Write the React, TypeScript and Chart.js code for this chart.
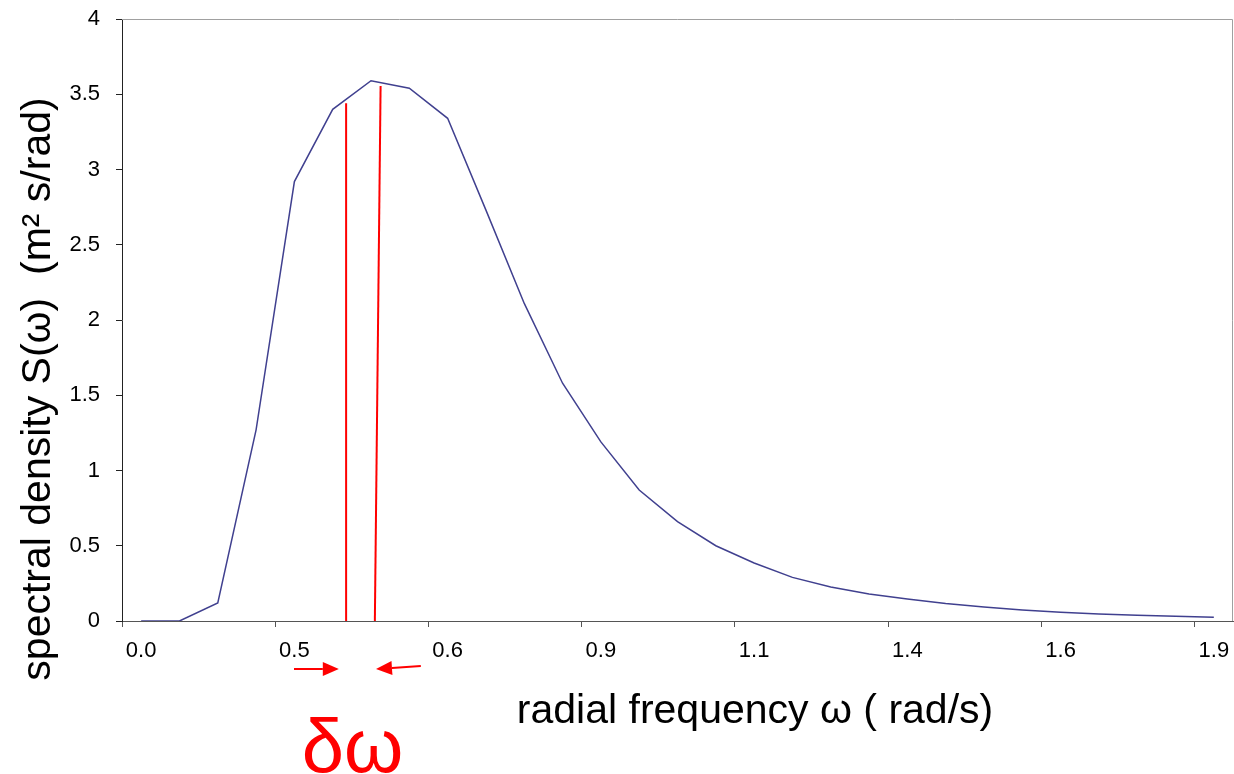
import React, { useEffect, useRef } from 'react';
import { Chart, registerables } from 'chart.js';

Chart.register(...registerables);

// ---- data ----
const tickLabels = ['0.0', '0.5', '0.6', '0.9', '1.1', '1.4', '1.6', '1.9'];
const labelEvery = 4;
const spectrum = [
  0, 0, 0.12, 1.27, 2.92, 3.4, 3.59, 3.54, 3.34, 2.73, 2.11, 1.58, 1.19, 0.87, 0.66,
  0.5, 0.385, 0.29, 0.226, 0.18, 0.146, 0.116, 0.093, 0.073, 0.058, 0.047, 0.038, 0.031, 0.025,
];
const yMin = 0;
const yMax = 4;
const yStep = 0.5;
// the two red lines bounding the band dω (x in category index units, y in S units)
const bandLeftX = [5.35, 5.35];
const bandLeftY = [0, 3.44];
const bandRightX = [6.1, 6.25];
const bandRightY = [0, 3.555];
// arrows under the axis (tail -> tip, x in category index units)
const arrowRightX = [3.99, 5.16];
const arrowLeftX = [7.3, 6.13];
const bandLabelX = 5.52;

const xTitle = 'radial frequency \u03C9 ( rad/s)';
const yTitle = 'spectral density S(\u03C9)  (m\u00B2 s/rad)';
const bandLabel = '\u03B4\u03C9';

const FONT = '"Liberation Sans", Arial, sans-serif';
const RED = '#ff0000';

function drawArrow(ctx: CanvasRenderingContext2D, x0: number, y0: number, x1: number, y1: number) {
  const head = 16;
  const half = 7;
  const ang = Math.atan2(y1 - y0, x1 - x0);
  const bx = x1 - head * Math.cos(ang);
  const by = y1 - head * Math.sin(ang);
  ctx.beginPath();
  ctx.moveTo(x0, y0);
  ctx.lineTo(bx, by);
  ctx.stroke();
  ctx.beginPath();
  ctx.moveTo(x1, y1);
  ctx.lineTo(bx - half * Math.sin(ang), by + half * Math.cos(ang));
  ctx.lineTo(bx + half * Math.sin(ang), by - half * Math.cos(ang));
  ctx.closePath();
  ctx.fill();
}

const annotate = {
  id: 'annotate',
  beforeDatasetsDraw(chart: any) {
    const { ctx, chartArea: a } = chart;
    ctx.save();
    ctx.strokeStyle = '#a0a0a0';
    ctx.lineWidth = 1;
    ctx.beginPath();
    ctx.moveTo(a.left, a.top + 0.5);
    ctx.lineTo(a.right - 0.5, a.top + 0.5);
    ctx.lineTo(a.right - 0.5, a.bottom);
    ctx.stroke();
    ctx.restore();
  },
  afterDraw(chart: any) {
    const { ctx, chartArea: a } = chart;
    const x = chart.scales.x;
    ctx.save();
    // arrows
    ctx.strokeStyle = RED;
    ctx.fillStyle = RED;
    ctx.lineWidth = 2;
    drawArrow(ctx, x.getPixelForValue(arrowRightX[0]), a.bottom + 48, x.getPixelForValue(arrowRightX[1]), a.bottom + 48);
    drawArrow(ctx, x.getPixelForValue(arrowLeftX[0]), a.bottom + 45, x.getPixelForValue(arrowLeftX[1]), a.bottom + 48);
    // band label
    ctx.font = `76px ${FONT}`;
    ctx.textAlign = 'center';
    ctx.textBaseline = 'alphabetic';
    ctx.fillText(bandLabel, x.getPixelForValue(bandLabelX), 772);
    // axis titles
    ctx.fillStyle = '#000';
    ctx.font = `41px ${FONT}`;
    ctx.fillText(xTitle, 755, 723);
    ctx.translate(50, 389);
    ctx.rotate(-Math.PI / 2);
    ctx.fillText(yTitle, 0, 0);
    ctx.restore();
  },
};

export default function App() {
  const ref = useRef<HTMLCanvasElement | null>(null);
  useEffect(() => {
    if (!ref.current) return;
    const chart = new Chart(ref.current, {
      type: 'line',
      data: {
        datasets: [
          {
            data: spectrum.map((v, i) => ({ x: i, y: v })),
            borderColor: '#40408f',
            borderWidth: 1.5,
            pointRadius: 0,
            tension: 0,
            fill: false,
          },
          {
            data: bandLeftX.map((v, i) => ({ x: v, y: bandLeftY[i] })),
            borderColor: RED,
            borderWidth: 2,
            pointRadius: 0,
            fill: false,
          },
          {
            data: bandRightX.map((v, i) => ({ x: v, y: bandRightY[i] })),
            borderColor: RED,
            borderWidth: 2,
            pointRadius: 0,
            fill: false,
          },
        ],
      },
      options: {
        animation: false,
        responsive: false,
        events: [],
        layout: { autoPadding: false, padding: { left: 0, right: 1, top: 19, bottom: 0 } },
        plugins: { legend: { display: false }, tooltip: { enabled: false } },
        scales: {
          x: {
            type: 'linear',
            bounds: 'data',
            min: -0.5,
            max: spectrum.length - 0.5,
            afterBuildTicks: (s: any) => {
              s.ticks = spectrum.map((_, i) => ({ value: i }));
            },
            afterFit: (s: any) => {
              s.height = 153;
              s.paddingLeft = 0;
              s.paddingRight = 0;
              s.paddingTop = 0;
              s.paddingBottom = 0;
            },
            ticks: {
              autoSkip: false,
              maxRotation: 0,
              padding: 11,
              color: '#000',
              font: { family: FONT, size: 22 },
              callback: (_v: any, i: number) => (i % labelEvery === 0 ? tickLabels[i / labelEvery] : ''),
            },
            grid: {
              offset: true,
              drawOnChartArea: false,
              tickLength: 6,
              tickColor: (c: any) => (c.index !== undefined && c.index % labelEvery === 0 ? '#555' : 'rgba(0,0,0,0)'),
            },
            border: { color: '#555', width: 1 },
          },
          y: {
            min: yMin,
            max: yMax,
            afterFit: (s: any) => {
              s.width = 122;
              s.paddingLeft = 0;
              s.paddingRight = 0;
              s.paddingTop = 0;
              s.paddingBottom = 0;
            },
            ticks: {
              stepSize: yStep,
              padding: 16,
              color: '#000',
              font: { family: FONT, size: 22 },
              callback: (v: any) => String(v),
            },
            grid: { drawOnChartArea: false, tickLength: 6, tickColor: '#222' },
            border: { color: '#222', width: 1 },
          },
        },
      },
      plugins: [annotate],
    } as any);
    return () => chart.destroy();
  }, []);
  return (
    <div style={{ position: 'absolute', left: 0, top: 0, width: 1234, height: 774, background: '#fff' }}>
      <canvas ref={ref} width={1234} height={774} style={{ display: 'block' }} />
    </div>
  );
}
